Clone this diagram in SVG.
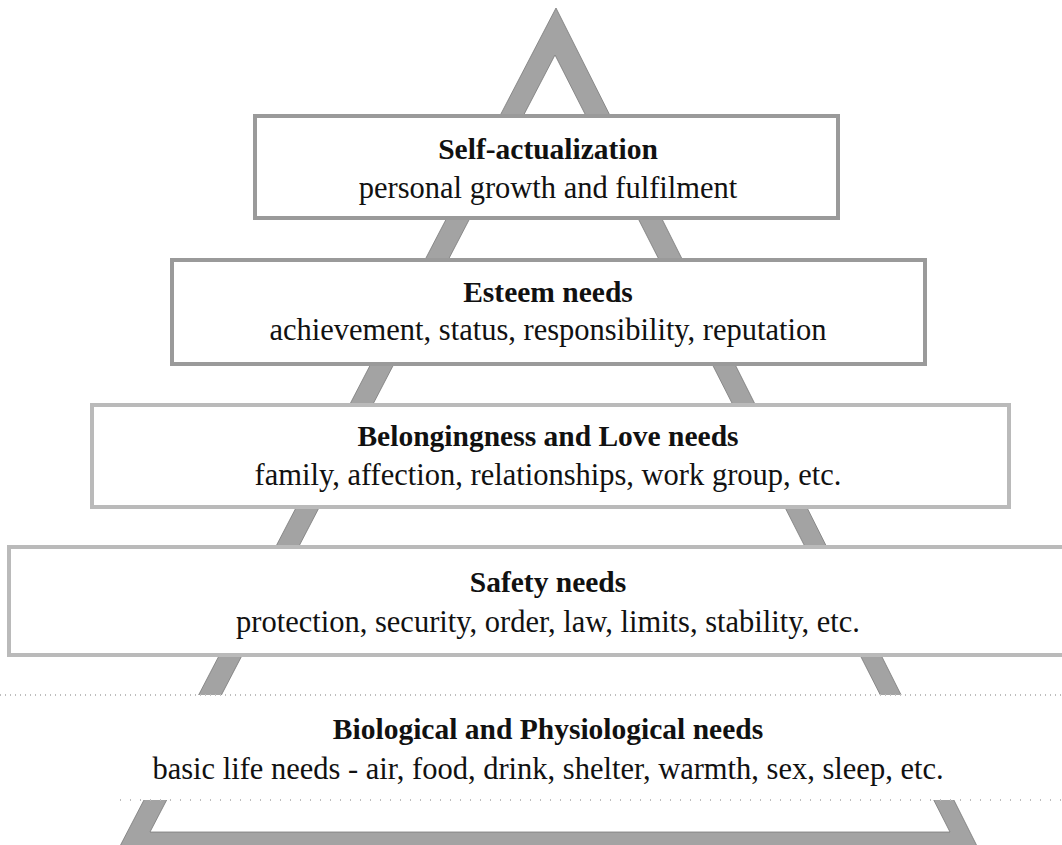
<svg xmlns="http://www.w3.org/2000/svg" width="1062" height="845" viewBox="0 0 1062 845">
<style>
  .frame { fill: #a3a3a3; stroke: #7a7a7a; stroke-width: 0.8; fill-rule: evenodd; }
  .box-dark { fill: #ffffff; stroke: #9a9a9a; stroke-width: 4; }
  .box-light { fill: #ffffff; stroke: #bababa; stroke-width: 4; }
  .box-none { fill: #ffffff; stroke: none; }
  .dots { stroke: #bdbdbd; stroke-width: 2; stroke-dasharray: 1 4; fill: none; }
  .title { font-family: "Liberation Serif", "Times New Roman", serif; font-weight: bold; font-size: 29.5px; fill: #111; text-anchor: middle; }
  .sub { font-family: "Liberation Serif", "Times New Roman", serif; font-size: 30.5px; fill: #111; text-anchor: middle; }
</style>
<rect width="1062" height="845" fill="#ffffff"/>
<g id="pyramid-frame">
  <path class="frame" d="M556 8 L119 848 L978 848 Z M555 55 L950 832 L150 832 Z"/>
</g>
<g id="connectors"></g>
<g id="node-biological">
  <rect class="box-none" x="0" y="695" width="1062" height="105"/>
  <line class="dots" x1="0" y1="695" x2="1062" y2="695"/>
  <line class="dots" x1="120" y1="800" x2="1062" y2="800" style="stroke-dasharray:1 9"/>
  <text class="title" x="548" y="739">Biological and Physiological needs</text>
  <text class="sub" x="548" y="779">basic life needs - air, food, drink, shelter, warmth, sex, sleep, etc.</text>
</g>
<g id="node-safety">
  <rect class="box-light" x="9" y="547" width="1070" height="108"/>
  <text class="title" x="548" y="592">Safety needs</text>
  <text class="sub" x="548" y="632">protection, security, order, law, limits, stability, etc.</text>
</g>
<g id="node-belonging">
  <rect class="box-light" x="92" y="405" width="917" height="102"/>
  <text class="title" x="548" y="446">Belongingness and Love needs</text>
  <text class="sub" x="548" y="485">family, affection, relationships, work group, etc.</text>
</g>
<g id="node-esteem">
  <rect class="box-dark" x="172" y="260" width="753" height="104"/>
  <text class="title" x="548" y="302">Esteem needs</text>
  <text class="sub" x="548" y="340">achievement, status, responsibility, reputation</text>
</g>
<g id="node-self-actualization">
  <rect class="box-dark" x="255" y="116" width="583" height="102"/>
  <text class="title" x="548" y="159">Self-actualization</text>
  <text class="sub" x="548" y="198">personal growth and fulfilment</text>
</g>
</svg>
